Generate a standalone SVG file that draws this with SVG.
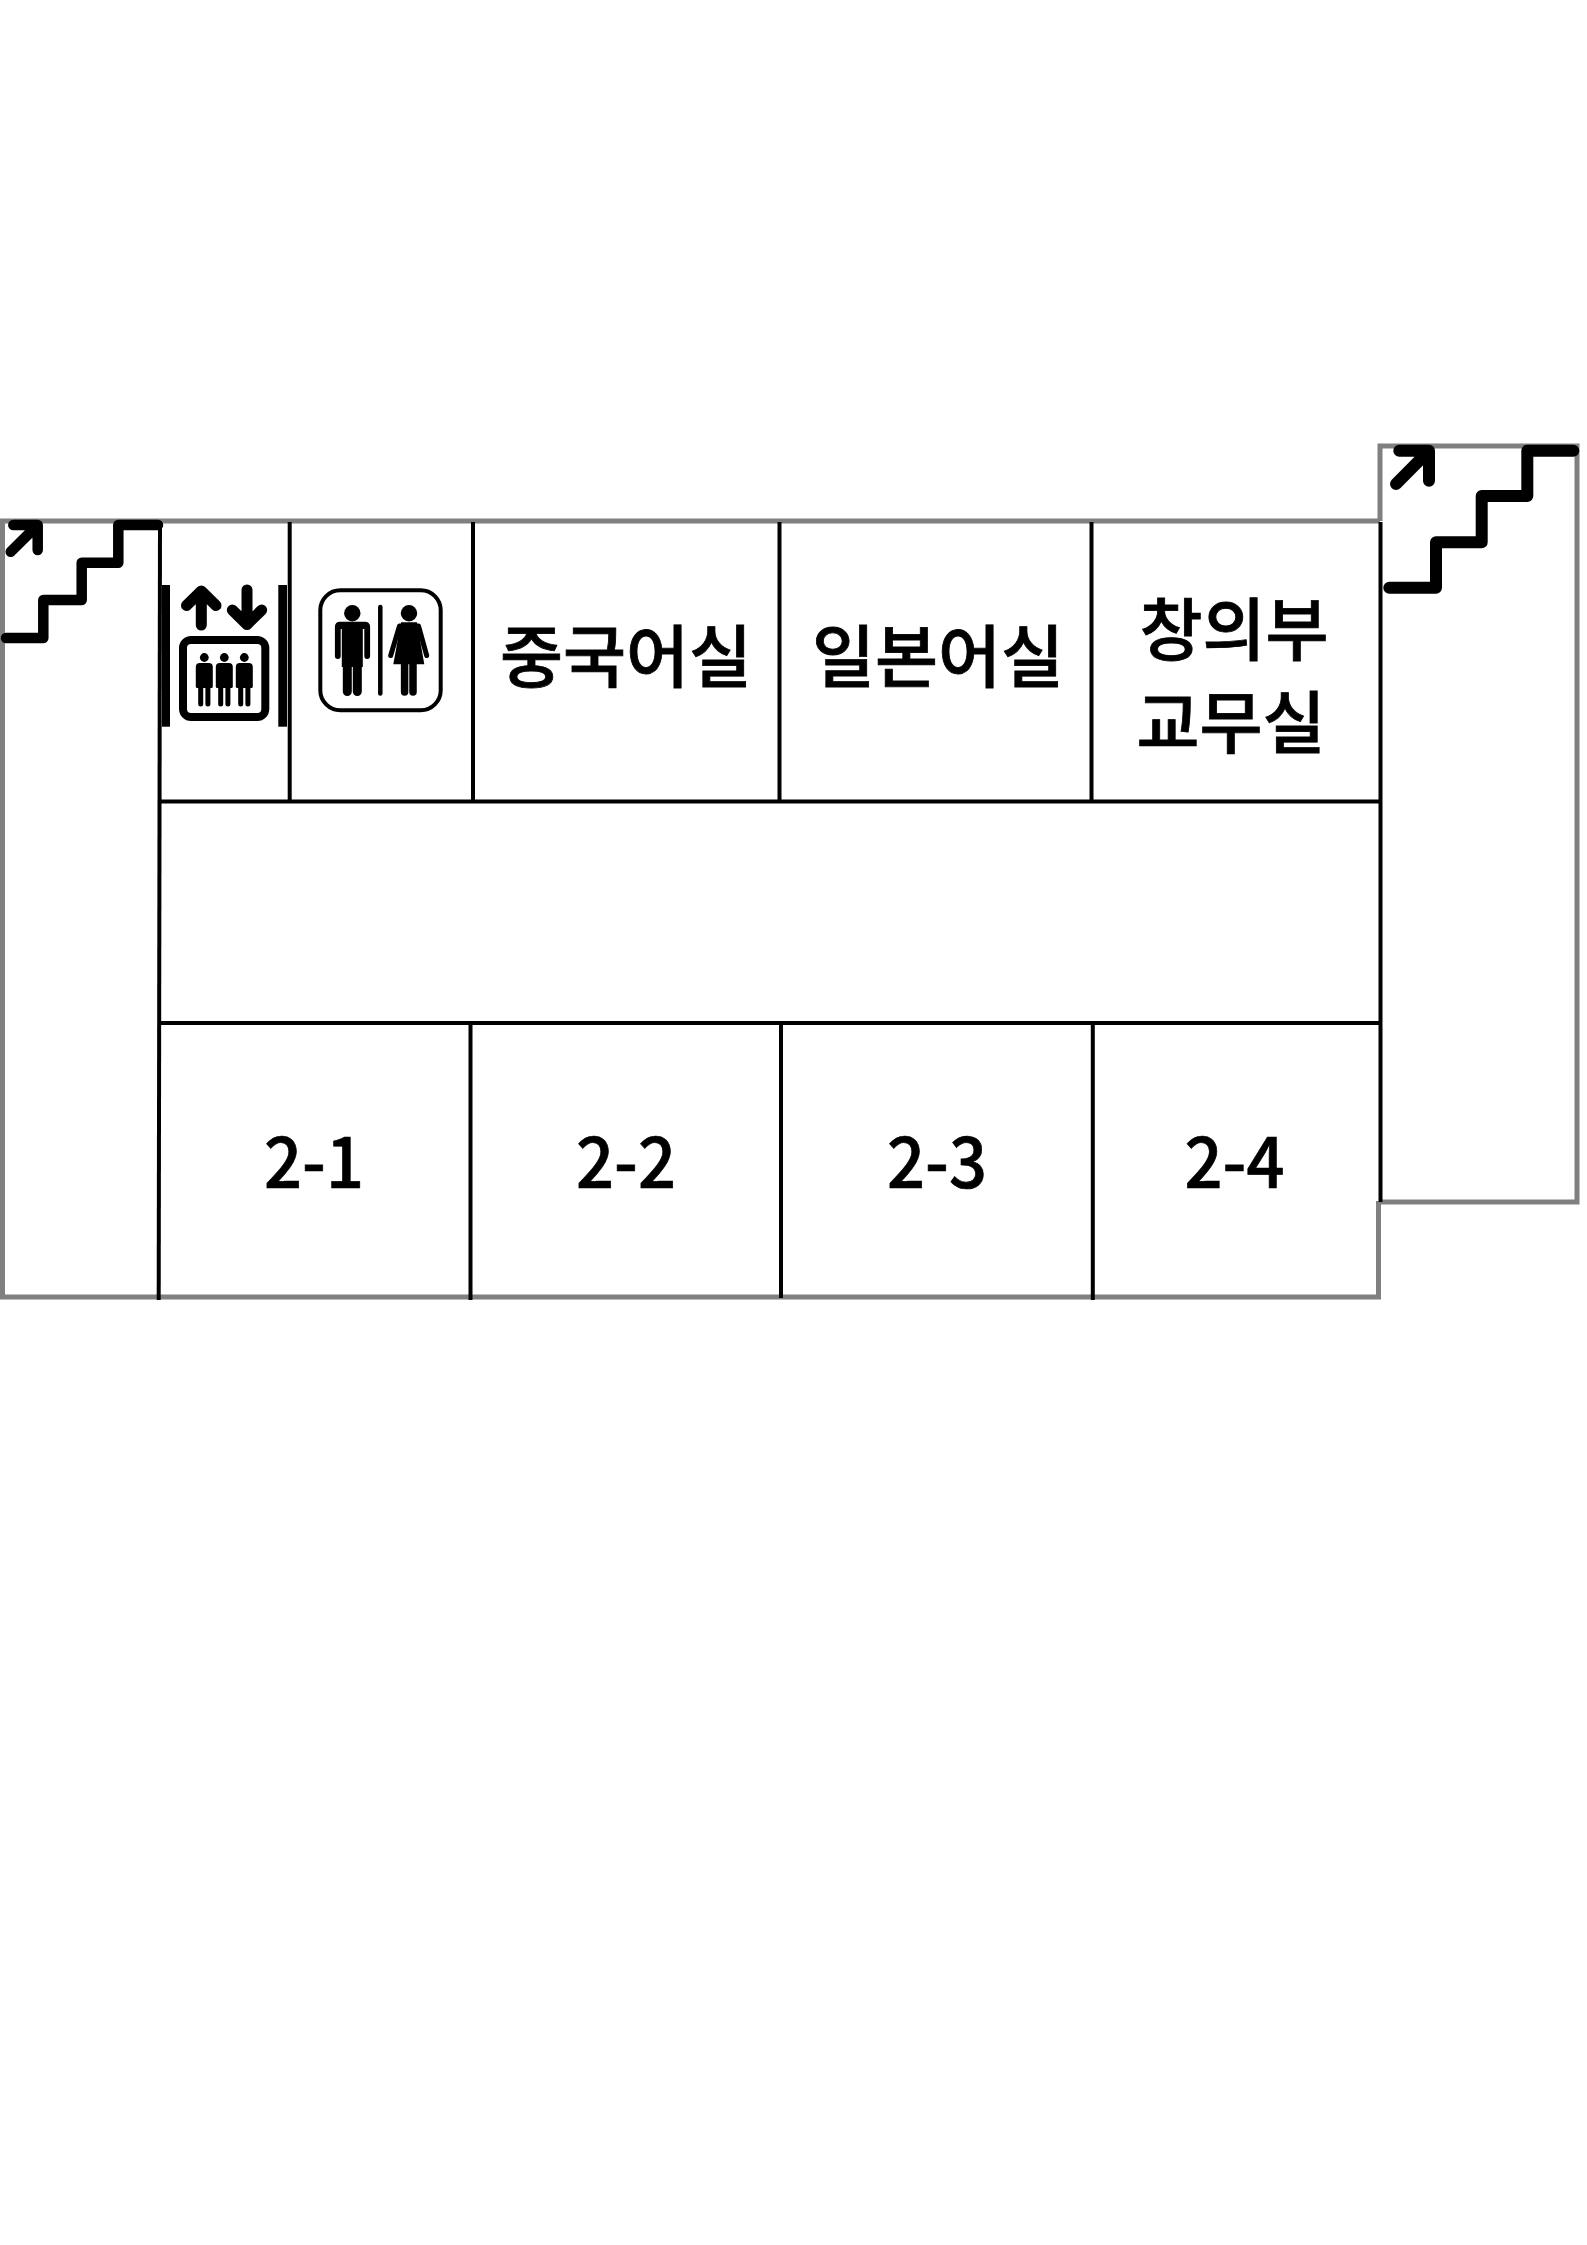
<svg xmlns="http://www.w3.org/2000/svg" xmlns:xlink="http://www.w3.org/1999/xlink" width="1587" height="2245" viewBox="0 0 1587 2245">
<style>
.g{fill:none;stroke:#808080;stroke-width:5}
.k{fill:none;stroke:#000;stroke-width:4}
.st{fill:none;stroke:#000;stroke-linejoin:round;stroke-linecap:round}
.ic{fill:none;stroke:#000;stroke-linecap:round;stroke-linejoin:round}
.f{fill:#000}
.t{font-family:"Noto Sans CJK KR","Noto Sans",sans-serif;font-weight:500;fill:#000;stroke:#000;text-anchor:middle}
.ko{font-size:68.5px;stroke-width:.8}
.nu{font-size:71px;stroke-width:.7}
</style>
<defs>
<g id="p3">
<circle cx="0" cy="-24.5" r="4.4" class="f"/>
<path class="f" d="M-8.5,-15Q-8.5,-19 -4.5,-19H4.5Q8.5,-19 8.5,-15V4.5Q8.5,6 7,6H-7Q-8.5,6 -8.5,4.5Z"/>
<path class="ic" stroke-width="5" d="M-3.6,4V22M3.6,4V22"/>
</g>
</defs>
<rect width="1587" height="2245" fill="#fff"/>
<g id="outline">
<path class="g" d="M160,521H2.5V1297H1378.5V1201"/>
<path class="g" d="M1380,521V446H1577V1202H1380"/>
<path class="g" d="M160,521H1380"/>
</g>
<g id="walls">
<path class="k" d="M160,521L158.7,1300"/>
<path class="k" d="M289.7,522V802M473,522V802M779.5,522V802M1091.5,522V802"/>
<path class="k" d="M160,801.5H1380M160,1023H1380"/>
<path class="k" d="M470.5,1023V1300M781,1023V1298M1092.8,1023V1300"/>
<path class="k" d="M1380.5,522V1202"/>
</g>
<g id="stairs-left">
<path class="st" stroke-width="10.5" d="M6,638H43.3V600H81.7V562.7H118.3V525H158"/>
<path class="st" stroke-width="10.5" d="M10.7,551.7L37.7,525M13.3,525H37.7V550"/>
</g>
<g id="stairs-right">
<path class="st" stroke-width="12" d="M1389.3,587.7H1436V542.3H1481.7V496H1527.3V450.7H1573.3"/>
<path class="st" stroke-width="12" d="M1396,484L1429,450.7M1399.3,450.7H1429V480.7"/>
</g>
<g id="elevator">
<rect class="f" x="162" y="585" width="8" height="141.7"/>
<rect class="f" x="278.3" y="585" width="8.7" height="141.7"/>
<path class="ic" stroke-width="11" d="M201.3,625V591M186.5,605.5L201.3,591L216,605.5"/>
<path class="ic" stroke-width="11" d="M247,590V624.5M232.3,610L247,624.5L261.7,610"/>
<rect x="183" y="640" width="82.3" height="77" rx="8" fill="none" stroke="#000" stroke-width="8"/>
<use xlink:href="#p3" href="#p3" x="204.3" y="682"/>
<use xlink:href="#p3" href="#p3" x="224.3" y="682"/>
<use xlink:href="#p3" href="#p3" x="244.3" y="682"/>
</g>
<g id="restroom">
<rect x="320.3" y="590.3" width="120.4" height="120" rx="20" fill="none" stroke="#000" stroke-width="4"/>
<path class="ic" stroke-width="4.5" d="M380.3,607V693.5"/>
<circle class="f" cx="352.3" cy="613.3" r="8.2"/>
<path class="f" d="M340,621.7H364.7Q370,621.7 370,627V629H335V627Q335,621.7 340,621.7Z"/>
<rect class="f" x="341.8" y="625" width="21" height="42"/>
<path class="ic" stroke-width="5.8" d="M337.8,627V656M367.2,627V656"/>
<path class="ic" stroke-width="9" d="M347.3,664V691.5M357.3,664V691.5"/>
<circle class="f" cx="409" cy="613.3" r="8.2"/>
<path class="f" d="M401,622.3H417L424.3,664.3H393.3Z"/>
<path class="ic" stroke-width="5" d="M399.5,626L390.7,655.5M418.5,626L426.7,655.5"/>
<path class="ic" stroke-width="7.5" d="M404.6,662V692M413,662V692"/>
</g>
<g id="rooms">
<text class="t ko" x="626" y="682">중국어실</text>
<text class="t ko" x="938" y="682">일본어실</text>
<text class="t ko" x="1234" y="655">창의부</text>
<text class="t ko" x="1231" y="748">교무실</text>
<text class="t nu" x="314" y="1187.7" textLength="100" lengthAdjust="spacingAndGlyphs">2-1</text>
<text class="t nu" x="626" y="1187.7" textLength="100" lengthAdjust="spacingAndGlyphs">2-2</text>
<text class="t nu" x="937" y="1187.7" textLength="100" lengthAdjust="spacingAndGlyphs">2-3</text>
<text class="t nu" x="1234.5" y="1187.7" textLength="100" lengthAdjust="spacingAndGlyphs">2-4</text>
</g>
</svg>
